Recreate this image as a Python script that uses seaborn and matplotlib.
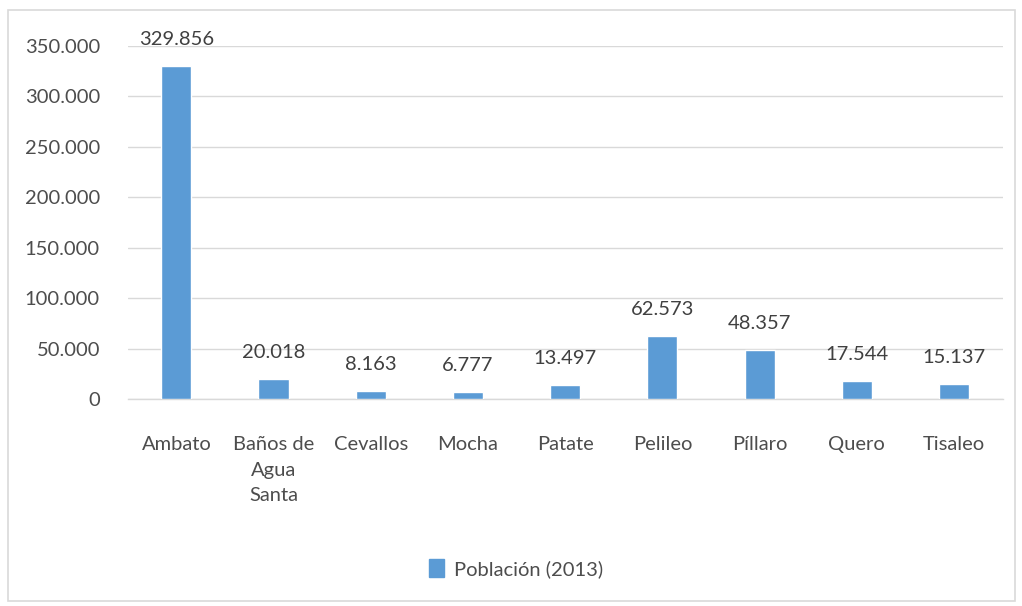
import matplotlib
matplotlib.use("Agg")
import matplotlib.pyplot as plt
import matplotlib.patches as mpatches
import matplotlib.ticker as mticker
import seaborn as sns
import pandas as pd

# data
cantones = ["Ambato", "Baños de\nAgua\nSanta", "Cevallos", "Mocha", "Patate",
            "Pelileo", "Píllaro", "Quero", "Tisaleo"]
poblacion = [329856, 20018, 8163, 6777, 13497, 62573, 48357, 17544, 15137]
serie = "Población (2013)"

df = pd.DataFrame({"canton": cantones, "poblacion": poblacion})

sns.set_style("white")
plt.rcParams["font.family"] = ["Lato", "DejaVu Sans"]

azul = "#5B9BD5"
gris_txt = "#4D4D4D"

fig = plt.figure(figsize=(10.22, 6.06), dpi=100)
fig.patches.append(mpatches.Rectangle((0.008, 0.008), 0.985, 0.975, transform=fig.transFigure,
                                      fill=False, edgecolor="#D9D9D9", linewidth=1.2))
ax = fig.add_axes([0.125, 0.3416, 0.856, 0.5824])

sns.barplot(data=df, x="canton", y="poblacion", color=azul, width=0.31,
            saturation=1, ax=ax, zorder=3)

ax.set_ylim(0, 350000)
ax.yaxis.set_major_locator(mticker.MultipleLocator(50000))
ax.yaxis.set_major_formatter(mticker.FuncFormatter(
    lambda v, p: "0" if v == 0 else f"{int(v):,}".replace(",", ".")))
ax.grid(axis="y", color="#D9D9D9", linewidth=1, zorder=0)
ax.set_xlim(-0.5, len(cantones) - 0.5)
for s in ["top", "right", "left"]:
    ax.spines[s].set_visible(False)
ax.spines["bottom"].set_color("#D9D9D9")
ax.spines["bottom"].set_linewidth(1)
ax.set_xlabel("")
ax.set_ylabel("")
ax.tick_params(axis="y", length=0, pad=20, labelsize=14.5, labelcolor=gris_txt)
ax.tick_params(axis="x", length=0, pad=27, labelsize=14.5, labelcolor=gris_txt)
for lbl in ax.get_xticklabels():
    lbl.set_verticalalignment("top")
    lbl.set_linespacing(1.6)

for i, v in enumerate(poblacion):
    ax.annotate(f"{v:,}".replace(",", "."), (i, v), xytext=(0, 13),
                textcoords="offset points", ha="center", va="bottom",
                fontsize=14.5, color="#404040")

handle = mpatches.Patch(color=azul, label=serie)
fig.legend(handles=[handle], loc="center", bbox_to_anchor=(0.505, 0.062), frameon=False,
           fontsize=14.5, labelcolor=gris_txt, handlelength=0.7, handleheight=1.0,
           handletextpad=0.5)

fig.savefig("out.png", dpi=100)
